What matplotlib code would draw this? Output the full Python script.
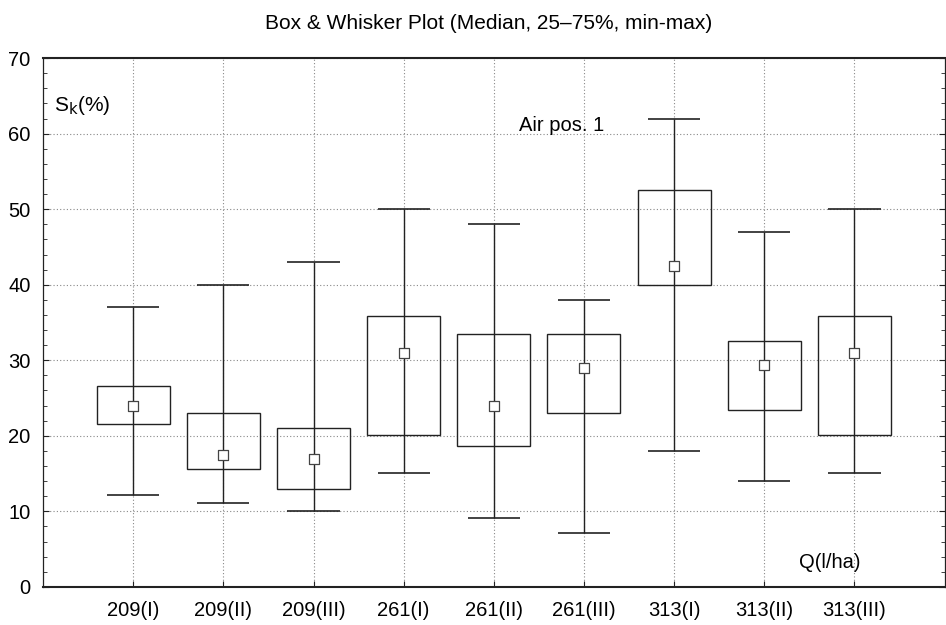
import matplotlib.pyplot as plt
import numpy as np

plt.rcParams['font.family'] = ['Liberation Sans', 'DejaVu Sans']

# data
labels = ['209(I)', '209(II)', '209(III)', '261(I)', '261(II)', '261(III)',
          '313(I)', '313(II)', '313(III)']
v_min = [12.1, 11.1, 10.1, 15.1, 9.1, 7.1, 18.0, 14.0, 15.1]
q25 = [21.6, 15.6, 13.0, 20.1, 18.7, 23.0, 40.0, 23.4, 20.1]
median = [23.9, 17.5, 16.9, 31.0, 24.0, 29.0, 42.5, 29.4, 31.0]
q75 = [26.6, 23.0, 21.0, 35.9, 33.5, 33.5, 52.5, 32.5, 35.9]
v_max = [37.0, 40.0, 43.0, 50.0, 48.0, 38.0, 62.0, 47.0, 50.0]

x = np.arange(1, len(labels) + 1)
lc = '#222222'

fig = plt.figure(figsize=(9.46, 6.25), dpi=100)
ax = fig.add_axes([0.0455, 0.061, 0.953, 0.846])

# grid
ax.grid(True, which='major', linestyle=(0, (1, 2)), color='#888888', linewidth=0.8)
ax.set_axisbelow(True)

# whiskers and caps
ax.vlines(x, v_min, v_max, color=lc, linewidth=1.0, zorder=2)
ax.hlines(v_min, x - 0.29, x + 0.29, color=lc, linewidth=1.2, zorder=2)
ax.hlines(v_max, x - 0.29, x + 0.29, color=lc, linewidth=1.2, zorder=2)

# boxes
heights = np.array(q75) - np.array(q25)
ax.bar(x, heights, bottom=q25, width=0.81, fill=False, edgecolor=lc,
       linewidth=1.0, zorder=3)

# median markers
ax.scatter(x, median, marker='s', s=55, facecolor='white', edgecolor='#444444',
           linewidth=0.9, zorder=4)

ax.set_xlim(0, 10)
ax.set_ylim(0, 70)
ax.set_xticks(x)
ax.set_xticklabels(labels)
ax.set_yticks(np.arange(0, 71, 10))
ax.set_yticks(np.arange(0, 71, 2), minor=True)
ax.tick_params(axis='y', which='both', direction='in', right=True, labelsize=14.5,
               color=lc, pad=9)
ax.tick_params(axis='y', which='major', length=4)
ax.tick_params(axis='y', which='minor', length=3)
ax.tick_params(axis='x', direction='in', length=4, labelsize=14.5, pad=10, color=lc)

for s in ['top', 'bottom']:
    ax.spines[s].set_linewidth(1.5)
    ax.spines[s].set_color(lc)
for s in ['left', 'right']:
    ax.spines[s].set_linewidth(0.9)
    ax.spines[s].set_color(lc)

ax.text(0.12, 63.7, r'S$_\mathrm{k}$(%)', fontsize=15, va='center', ha='left')
ax.text(5.75, 61.1, 'Air pos. 1', fontsize=14.5, va='center', ha='center')
ax.text(8.73, 3.2, 'Q(l/ha)', fontsize=14.5, va='center', ha='center')

fig.suptitle('Box & Whisker Plot (Median, 25–75%, min-max)', x=0.516, y=0.977,
             fontsize=15)

fig.savefig('out.png', dpi=100)
